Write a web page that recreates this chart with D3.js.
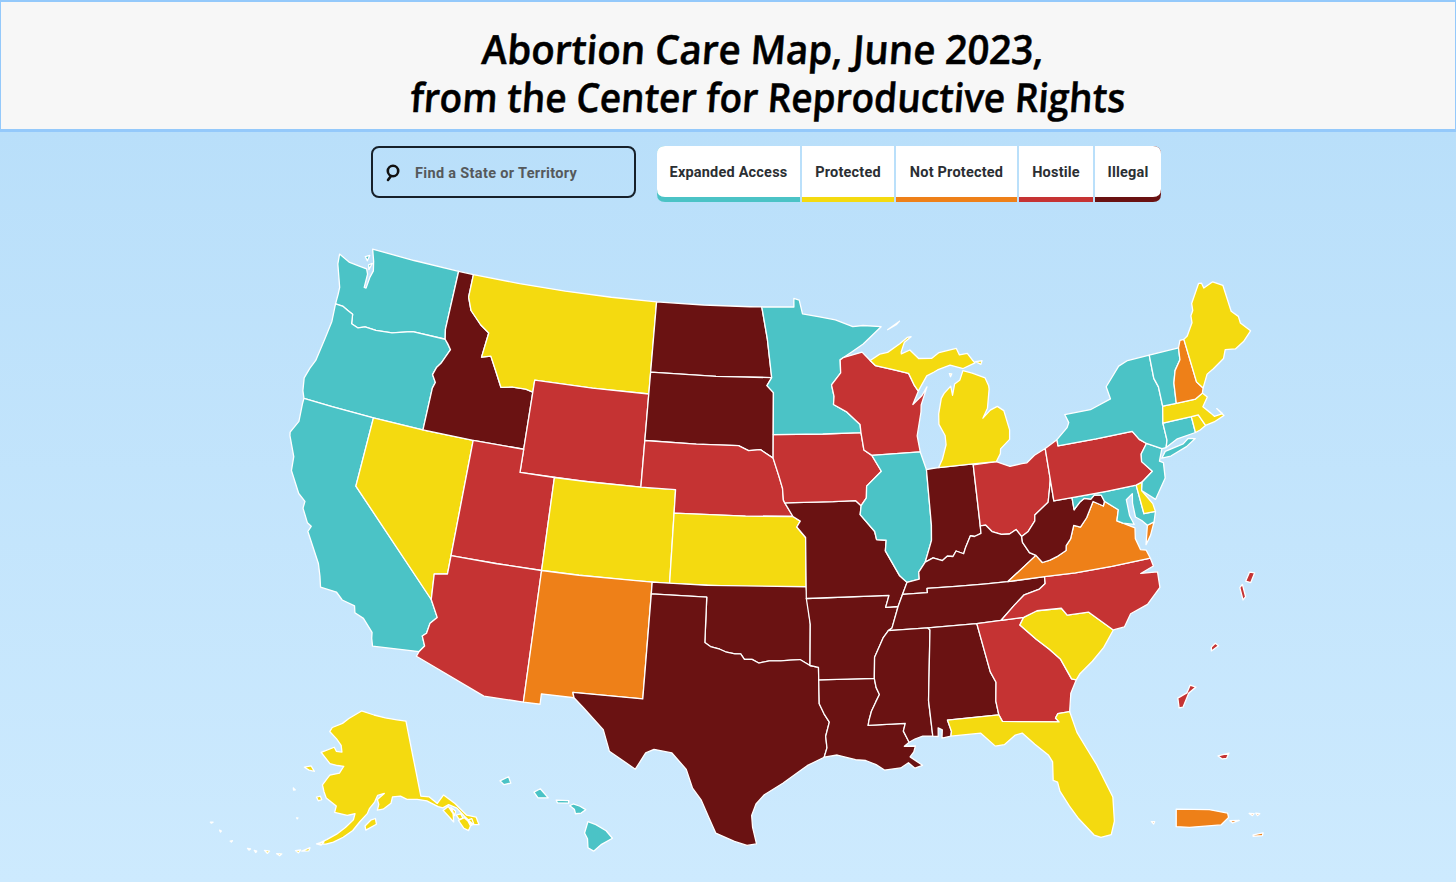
<!DOCTYPE html>
<html>
<head>
<meta charset="utf-8">
<script src="https://cdn.jsdelivr.net/npm/d3@7"></script>
<style>
  html, body { margin: 0; padding: 0; background: #fff; overflow: hidden; }
  svg { display: block; }
</style>
</head>
<body>
<div id="chart"></div>
<script>
const titleLines = ['Abortion Care Map, June 2023,', 'from the Center for Reproductive Rights']
const searchLabel = 'Find a State or Territory'
const categories = ['Expanded Access', 'Protected', 'Not Protected', 'Hostile', 'Illegal']
const categoryColors = ['#4bc3c6', '#f4da10', '#ee8018', '#c53333', '#6a1212']

// status of each state / territory
const expandedAccess = ['WA', 'OR', 'CA', 'MN', 'IL', 'NY', 'VT', 'CT', 'NJ', 'MD', 'HI']
const protectedStates = ['MT', 'NV', 'CO', 'KS', 'MI', 'ME', 'MA', 'RI', 'DE', 'SC', 'FL', 'AK']
const notProtected = ['NM', 'VA', 'NH', 'PR', 'VI']
const hostile = ['UT', 'WY', 'AZ', 'NE', 'IA', 'WI', 'OH', 'PA', 'NC', 'GA', 'GU', 'MP', 'AS']
const illegal = ['ID', 'ND', 'SD', 'TX', 'OK', 'MO', 'AR', 'LA', 'MS', 'AL', 'TN', 'KY', 'WV', 'IN']

// shared borders, [lon, lat]
const columbia = [[-124.05,46.27],[-123.55,46.26],[-123.2,46.15],[-122.85,46.05],[-122.8,45.85],[-122.75,45.65],[-122.3,45.55],[-121.9,45.68],[-121.2,45.65],[-120.2,45.73],[-119.3,45.93],[-118.98,46],[-116.92,46]]
const hellsCanyon = [[-116.92,46],[-116.7,45.83],[-116.46,45.61],[-116.85,44.95],[-117.05,44.75],[-117.2,44.4],[-116.93,44.1],[-117.03,43.83],[-117.03,42]]
const bitterroot = [[-116.05,49],[-116.05,48],[-115.72,47.45],[-114.95,46.93],[-114.35,46.65],[-114.5,45.57],[-113.95,45.69],[-113.45,45.05],[-113,44.45],[-112.3,44.55],[-111.5,44.55],[-111.05,44.48]]
const coloradoRiver = [[-114.63,35],[-114.14,34.3],[-114.45,34],[-114.53,33.55],[-114.72,33.4],[-114.5,33],[-114.72,32.72]]
const redRiver = [[-100,34.56],[-99.7,34.4],[-99.2,34.3],[-98.9,34.2],[-98.4,34.12],[-98.1,34.13],[-97.9,33.9],[-97.5,33.9],[-97.15,33.75],[-96.6,33.85],[-96,33.85],[-95.5,33.88],[-95,33.9],[-94.48,33.64]]
const sdNe = [[-96.45,42.49],[-97.2,42.85],[-97.9,42.8],[-98.5,43]]
const iowaWest = [[-96.45,42.49],[-96.1,41.7],[-95.9,41.2],[-95.85,40.7],[-95.77,40.58]]
const mnWi = [[-92.29,46.66],[-92.29,46.1],[-92.88,45.6],[-92.75,45.1],[-92.8,44.75],[-92,44.4],[-91.25,43.85],[-91.22,43.5]]
const iaWi = [[-91.22,43.5],[-91.1,42.75],[-90.65,42.5]]
const iaIl = [[-90.65,42.5],[-90.15,41.8],[-91.05,41.2],[-91.1,40.7],[-91.42,40.38]]
const moIl = [[-91.42,40.38],[-91.5,40],[-90.73,39.25],[-90.65,38.9],[-90.12,38.85],[-90.2,38.4],[-89.5,37.3],[-89.13,37]]
const moKy = [[-89.13,37],[-89.42,36.5]]
const moTn = [[-89.42,36.5],[-89.7,36]]
const arTn = [[-89.7,36],[-90.1,35.1],[-90.3,35]]
const arMs = [[-90.3,35],[-90.6,34.7],[-91.1,33.9],[-91.17,33]]
const laMs = [[-91.17,33],[-91.1,32.6],[-90.95,32.3],[-91.15,32],[-91.4,31.6],[-91.55,31.2],[-91.6,31],[-89.73,31],[-89.85,30.67],[-89.6,30.18]]
const ilKy = [[-89.13,37],[-88.45,37.1],[-88.45,37.4],[-88.05,37.8]]
const ilIn = [[-87.53,39.35],[-87.6,38.7],[-87.95,38],[-88.05,37.8]]
const inKy = [[-88.05,37.8],[-87.6,37.95],[-87.1,37.8],[-86.8,37.97],[-86.5,37.93],[-86.3,38.15],[-85.9,38],[-85.75,38.27],[-85.42,38.73],[-85.2,38.68],[-84.82,38.78],[-84.81,39.1]]
const ohKy = [[-84.81,39.1],[-84.5,39.1],[-84.2,38.8],[-83.7,38.63],[-83.25,38.6],[-82.85,38.75],[-82.6,38.42]]
const ohWv = [[-82.6,38.42],[-82.2,38.6],[-81.75,39],[-81.7,39.25],[-80.85,39.7],[-80.65,40.25],[-80.52,40.64]]
const kyWv = [[-82.6,38.42],[-82.6,38.17],[-82.3,37.7],[-81.97,37.54]]
const vaWv = [[-81.97,37.54],[-81.68,37.2],[-81.25,37.25],[-80.85,37.35],[-80.3,37.55],[-80.25,37.75],[-79.95,38],[-79.65,38.55],[-79.3,38.42],[-78.87,38.77],[-78.35,39.4],[-77.83,39.13],[-77.72,39.32]]
const mdWv = [[-79.48,39.2],[-79.1,39.47],[-78.8,39.6],[-78.45,39.52],[-78.2,39.67],[-77.83,39.6],[-77.72,39.32]]
const savannah = [[-83.1,35],[-83.35,34.7],[-82.6,34],[-82,33.5],[-81.5,33],[-81.1,32.1],[-80.87,32.03]]
const rev = border => border.slice().reverse()

// state outlines, [lon, lat]
const stateRings = {
  WA: [[[-124.73,48.38],[-124,48.17],[-123.3,48.13],[-122.8,48.1],[-122.65,47.9],[-122.62,47.3],[-122.5,47.3],[-122.45,47.8],[-122.35,48.1],[-122.5,48.5],[-122.78,49],[-120,49],[-117.03,49],[-117.04,46.42],...rev(columbia),[-124.07,46.7],[-124.1,47],[-124.3,47.35],[-124.65,47.95]],
       [[-123.1,48.6],[-122.85,48.7],[-122.9,48.45]],
       [[-122.75,48.3],[-122.55,48.4],[-122.65,48.1]]],
  OR: [[...columbia,...hellsCanyon,[-120,42],[-122.5,42],[-124.21,42],[-124.4,42.3],[-124.55,42.84],[-124.4,43.3],[-124.2,43.7],[-124.05,44.7],[-123.95,45.5]]],
  CA: [[[-124.21,42],[-122.5,42],[-120,42],[-120,39],...coloradoRiver,[-117.12,32.53],[-117.25,32.85],[-117.3,33.1],[-117.9,33.6],[-118.4,33.75],[-118.5,34.03],[-119.2,34.15],[-119.6,34.42],[-120.47,34.45],[-120.65,34.9],[-120.9,35.4],[-121.9,36.6],[-121.8,36.85],[-122.05,36.95],[-122.5,37.5],[-122.5,37.8],[-122.95,38.05],[-123.7,38.9],[-123.8,39.5],[-124.35,40.3],[-124.4,40.45],[-124.1,41],[-124.2,41.75]]],
  NV: [[[-120,42],[-117,42],[-114.04,42],[-114.04,36.2],[-114.74,36.1],[-114.63,35],[-120,39]]],
  ID: [[[-117.03,49],...bitterroot,[-111.05,42],[-114.04,42],...rev(hellsCanyon),[-117.04,46.42]]],
  MT: [[[-116.05,49],[-113,49],[-110,49],[-107,49],[-104.05,49],[-104.05,45],[-107.5,45],[-111.05,45],...rev(bitterroot)]],
  WY: [[[-111.05,45],[-107.5,45],[-104.05,45],[-104.05,43],[-104.05,41],[-107.5,41],[-111.05,41]]],
  UT: [[[-114.04,42],[-111.05,42],[-111.05,41],[-109.05,41],[-109.05,37],[-111.5,37],[-114.04,37]]],
  CO: [[[-109.05,41],[-107,41],[-104.05,41],[-102.05,41],[-102.05,37],[-104,37],[-107,37],[-109.05,37]]],
  AZ: [[[-114.04,37],[-111.5,37],[-109.05,37],[-109.05,31.33],[-111.07,31.33],[-114.81,32.5],...rev(coloradoRiver),[-114.74,36.1],[-114.04,36.2]]],
  NM: [[[-109.05,37],[-107,37],[-103,37],[-103.04,32],[-106.62,32],[-106.53,31.78],[-108.2,31.78],[-108.2,31.33],[-109.05,31.33]]],
  ND: [[[-104.05,49],[-101,49],[-98,49],[-97.23,49],[-96.85,47.6],[-96.56,45.94],[-100,45.94],[-104.05,45.94]]],
  SD: [[[-104.05,45.94],[-100,45.94],[-96.56,45.94],[-96.85,45.6],[-96.45,45.3],[-96.45,43.5],...sdNe,[-101,43],[-104.05,43]]],
  NE: [[[-104.05,43],[-101,43],...rev(sdNe),...iowaWest,[-95.31,40],[-98,40],[-102.05,40],[-102.05,41],[-104.05,41]]],
  KS: [[[-102.05,40],[-98,40],[-95.31,40],[-94.9,39.8],[-95.1,39.55],[-94.61,39.1],[-94.62,37],[-98,37],[-102.05,37]]],
  OK: [[[-103,37],[-100,37],[-94.62,37],[-94.43,35.4],...rev(redRiver),[-100,36.5],[-103,36.5]]],
  TX: [[[-103,36.5],[-100,36.5],...redRiver,[-94.04,33.55],[-94.04,33.02],[-94.04,32],[-93.8,31.55],[-93.55,31.2],[-93.75,30.6],[-93.7,30.1],[-93.85,29.7],[-94.7,29.35],[-95.1,29.1],[-95.9,28.6],[-96.8,28.1],[-97.2,27.7],[-97.4,27.2],[-97.35,26.7],[-97.15,25.97],[-97.6,25.9],[-98.2,26.06],[-99.1,26.4],[-99.45,27.05],[-99.85,27.8],[-100.3,28.3],[-100.65,29.1],[-101.4,29.77],[-102.3,29.88],[-102.7,29.7],[-103.15,28.97],[-104.5,29.65],[-104.9,30.55],[-106,31.4],[-106.53,31.78],[-106.62,32],[-103.04,32]]],
  LA: [[[-94.04,33.02],...laMs,[-89.85,30.02],[-89.3,30],[-89.4,29.75],[-89.6,29.55],[-89.02,29.15],[-89.4,29.05],[-89.7,29.3],[-90.1,29.1],[-90.9,29.05],[-91.3,29.3],[-91.8,29.5],[-92.3,29.55],[-93.2,29.78],[-93.85,29.7],[-93.7,30.1],[-93.75,30.6],[-93.55,31.2],[-93.8,31.55],[-94.04,32]]],
  AR: [[[-94.62,36.5],[-90.15,36.5],[-90.37,36],...arTn,...arMs,[-94.04,33.02],[-94.04,33.55],[-94.48,33.64],[-94.43,35.4]]],
  MO: [[[-95.77,40.58],[-93,40.6],[-91.73,40.61],...moIl,...moKy,...moTn,[-90.37,36],[-90.15,36.5],[-94.62,36.5],[-94.62,37],[-94.61,39.1],[-95.1,39.55],[-94.9,39.8],[-95.31,40]]],
  IA: [[[-96.45,43.5],[-93.5,43.5],...iaWi,...iaIl,[-91.73,40.61],[-93,40.6],...rev(iowaWest)]],
  MN: [[[-97.23,49],[-95.15,49],[-95.15,49.38],[-94.8,49.3],[-94.6,48.7],[-93.5,48.55],[-92.5,48.4],[-91.4,48.07],[-90.75,48.1],[-89.6,48],[-90.8,47.3],[-91.5,47],[-92.1,46.75],...mnWi,[-93.5,43.5],[-96.45,43.5],[-96.45,45.3],[-96.85,45.6],[-96.56,45.94],[-96.85,47.6]]],
  WI: [[[-92.1,46.75],[-90.9,46.95],[-90.42,46.57],[-90.12,46.34],[-89.1,46.13],[-88.1,45.9],[-87.8,45.35],[-87.6,45.1],[-88,44.55],[-87.4,44.9],[-87.05,45.25],[-87.5,44.5],[-87.55,44.2],[-87.9,43.2],[-87.8,42.5],...rev(iaWi),...rev(mnWi)]],
  IL: [[[-90.65,42.5],[-87.8,42.5],[-87.53,41.72],...ilIn,...rev(ilKy),...rev(moIl),...rev(iaIl)]],
  IN: [[[-87.53,41.72],[-87.2,41.75],[-86.82,41.76],[-84.8,41.76],...rev(inKy),...rev(ilIn)]],
  OH: [[[-84.8,41.72],[-83.45,41.73],[-83.1,41.6],[-82.7,41.45],[-82,41.5],[-81.7,41.5],[-81.2,41.77],[-80.52,41.98],...rev(ohWv),...rev(ohKy)]],
  KY: [[...rev(moKy),...ilKy,...inKy,...ohKy,...kyWv,[-83.68,36.6],[-85,36.62],[-86.5,36.65],[-88.07,36.68],[-88.07,36.5]]],
  TN: [[...rev(arTn),...rev(moTn),[-88.07,36.5],[-88.07,36.68],[-86.5,36.65],[-85,36.62],[-83.68,36.6],[-81.68,36.59],[-81.7,36.3],[-82.05,36.1],[-82.9,35.95],[-83.5,35.57],[-84.3,35],[-85.6,34.98],[-88.2,35]]],
  MS: [[[-90.3,35],[-88.2,35],[-88.1,34.9],[-88.47,31.9],[-88.4,30.37],[-88.9,30.4],[-89.3,30.3],...rev(laMs),...rev(arMs)]],
  AL: [[[-88.2,35],[-85.6,34.98],[-85.18,32.87],[-84.95,32.4],[-85.07,31.6],[-85,31],[-87.6,31],[-87.45,30.5],[-87.5,30.3],[-87.95,30.25],[-87.9,30.6],[-88.1,30.7],[-88.13,30.33],[-88.4,30.37],[-88.47,31.9],[-88.1,34.9]]],
  GA: [[[-85.6,34.98],[-84.3,35],...savannah,[-81.25,31.5],[-81.45,30.73],[-82.05,30.72],[-82.2,30.55],[-82.05,30.36],[-84.86,30.7],[-85,31],[-85.07,31.6],[-84.95,32.4],[-85.18,32.87]]],
  FL: [[[-87.6,31],[-85,31],[-84.86,30.7],[-82.05,30.36],[-82.2,30.55],[-82.05,30.72],[-81.45,30.73],[-81.25,29.8],[-80.9,29.05],[-80.55,28.3],[-80.03,26.8],[-80.15,25.75],[-80.4,25.2],[-80.9,25.15],[-81.2,25.3],[-81.8,26.1],[-82.15,26.7],[-82.5,27.4],[-82.55,27.8],[-82.75,27.9],[-82.65,28.7],[-82.8,29],[-83.4,29.55],[-83.95,30.1],[-84.3,30.05],[-84.9,29.7],[-85.35,29.68],[-86,30.3],[-87.5,30.3],[-87.45,30.5]]],
  SC: [[...savannah,[-80.65,32.25],[-79.9,32.7],[-79.2,33.2],[-78.55,33.86],[-79.67,34.8],[-80.8,34.82],[-81.05,35.15],[-82.35,35.2]]],
  NC: [[[-84.3,35],[-83.5,35.57],[-82.9,35.95],[-82.05,36.1],[-81.7,36.3],[-81.68,36.59],[-80,36.54],[-78,36.54],[-75.87,36.55],[-75.8,36.2],[-76.55,36],[-75.65,35.92],[-75.7,35.25],[-76.53,34.65],[-77.5,34.4],[-77.95,33.9],[-78.55,33.86],[-79.67,34.8],[-80.8,34.82],[-81.05,35.15],[-82.35,35.2],[-83.1,35]]],
  VA: [[[-83.68,36.6],...vaWv,[-77.05,38.85],[-77.25,38.4],[-76.95,38.25],[-76.35,37.95],[-76.45,37.5],[-76.3,37],[-76,36.92],[-75.87,36.55],[-78,36.54],[-80,36.54],[-81.68,36.59]],
       [[-75.95,37.15],[-75.65,37.95],[-75.25,38.03],[-75.6,37.5]]],
  WV: [[...rev(kyWv),...ohWv,[-80.52,39.72],[-79.48,39.72],...mdWv,...rev(vaWv)]],
  MD: [[[-79.48,39.72],[-77.5,39.72],[-75.79,39.72],[-75.7,38.46],[-75.05,38.45],[-75.25,38.03],[-75.65,37.95],[-75.9,38.2],[-76.2,38.4],[-76.2,39],[-76.1,39.4],[-76.5,39.2],[-76.5,38.5],[-76.35,38.1],[-76.95,38.25],[-77.25,38.4],[-77.05,38.85],...rev(mdWv)]],
  DE: [[[-75.79,39.72],[-75.42,39.8],[-75.55,39.45],[-75.1,38.8],[-75.05,38.45],[-75.7,38.46]]],
  PA: [[[-80.52,41.98],[-79.76,42.27],[-79.76,42],[-77.5,42],[-75.35,42],[-75.05,41.6],[-74.7,41.36],[-75.13,40.97],[-75.2,40.65],[-74.72,40.15],[-75.42,39.8],[-75.79,39.72],[-77.5,39.72],[-79.48,39.72],[-80.52,39.72],[-80.52,40.64]]],
  NJ: [[[-74.7,41.36],[-73.9,41],[-74.2,40.5],[-74,40.4],[-74.1,39.75],[-74.9,38.95],[-75.55,39.45],[-75.42,39.8],[-74.72,40.15],[-75.2,40.65],[-75.13,40.97]]],
  NY: [[[-79.76,42.27],[-79.05,42.7],[-78.9,42.9],[-79.05,43.27],[-77.5,43.27],[-76.2,43.55],[-76.3,44.1],[-75.3,44.85],[-74.7,45],[-73.34,45.01],[-73.4,44],[-73.25,43.6],[-73.28,42.75],[-73.5,42.05],[-73.5,41.3],[-73.65,41],[-73.9,41],[-74.7,41.36],[-75.05,41.6],[-75.35,42],[-77.5,42],[-79.76,42]],
       [[-74.03,40.6],[-73.75,40.85],[-72.65,40.98],[-72.3,41.15],[-71.9,41.07],[-72.5,40.83],[-73.5,40.6]]],
  CT: [[[-73.5,42.05],[-71.8,42.02],[-71.8,41.32],[-72.9,41.25],[-73.65,41],[-73.5,41.3]]],
  RI: [[[-71.8,42.02],[-71.38,42.02],[-71.13,41.5],[-71.5,41.37],[-71.8,41.32]]],
  MA: [[[-73.5,42.05],[-73.28,42.75],[-72.46,42.73],[-71.3,42.7],[-70.82,42.87],[-70.6,42.65],[-71,42.3],[-70.65,41.95],[-70.5,41.78],[-70,41.8],[-70.25,42.07],[-69.95,41.7],[-70.6,41.55],[-71.13,41.5],[-71.38,42.02],[-71.8,42.02]]],
  VT: [[[-73.34,45.01],[-71.5,45.01],[-71.6,44.5],[-72.05,44.1],[-72.3,43.6],[-72.46,42.73],[-73.28,42.75],[-73.25,43.6],[-73.4,44]]],
  NH: [[[-71.5,45.01],[-71.3,45.3],[-71.05,45.3],[-70.98,43.4],[-70.7,43.07],[-70.82,42.87],[-71.3,42.7],[-72.46,42.73],[-72.3,43.6],[-72.05,44.1],[-71.6,44.5]]],
  ME: [[[-71.05,45.3],[-70.8,45.4],[-70.3,45.9],[-70.25,46.2],[-70.05,46.4],[-70,46.7],[-69.23,47.46],[-69.05,47.43],[-69,47.2],[-68.35,47.35],[-67.8,47.07],[-67.78,45.9],[-67.45,45.6],[-67.45,45.3],[-67,44.85],[-67.6,44.5],[-68.2,44.3],[-68.8,44.4],[-69.05,44.05],[-69.8,43.75],[-70.25,43.6],[-70.7,43.07],[-70.98,43.4]]],
  MI: [[[-86.82,41.76],[-84.8,41.76],[-83.45,41.73],[-83.15,42.05],[-83.1,42.25],[-82.5,42.6],[-82.42,43],[-82.6,43.85],[-82.95,44.07],[-83.4,43.95],[-83.9,43.65],[-83.55,44.05],[-83.3,44.85],[-83.3,45],[-83.45,45.35],[-84.2,45.63],[-84.75,45.78],[-85,45.4],[-85.35,45.25],[-85.55,44.78],[-85.6,45.18],[-86.05,44.9],[-86.25,44.7],[-86.5,44.05],[-86.55,43.6],[-86.25,43.1],[-86.25,42.7],[-86.55,42.1]],
       [[-90.42,46.57],[-89.8,46.82],[-89.3,46.87],[-88.5,47.2],[-88,47.45],[-87.75,47.47],[-88.2,47.25],[-88.45,46.85],[-88.45,46.76],[-87.9,46.9],[-87.4,46.5],[-86.6,46.45],[-86.1,46.67],[-85,46.77],[-84.85,46.47],[-84.35,46.5],[-84.1,46.2],[-83.95,46.05],[-84.72,45.87],[-85.5,46.08],[-86.3,45.93],[-86.55,45.85],[-87,45.72],[-87.6,45.1],[-87.8,45.35],[-88.1,45.9],[-89.1,46.13],[-90.12,46.34]],
       [[-83.9,46.1],[-83.5,46.1],[-83.6,45.95]],
       [[-85.6,45.72],[-85.45,45.7],[-85.55,45.58]],
       [[-89.2,47.85],[-88.4,48.18],[-88.6,48.05]]],
  AK: [[[-141,69.65],[-141,65],[-141,60.3],[-139,60],[-137.5,59],[-135.5,59.8],[-133.5,58.4],[-131.8,56.6],[-130,56],[-130,55],[-131.2,55.3],[-132.4,56.6],[-133.4,57.8],[-135,58.5],[-136.5,58.3],[-137.5,58.6],[-139.8,59.6],[-142,60],[-144.5,60.2],[-146,60.7],[-148,60.7],[-148.5,59.95],[-150.5,59.3],[-151.9,59.2],[-151.5,59.9],[-151.8,60.5],[-150,61.2],[-151.7,61],[-152.5,60.2],[-153.8,59.4],[-154.3,58.8],[-156,57.8],[-157.5,56.7],[-159.5,55.8],[-161.5,55.1],[-163,54.75],[-164.8,54.6],[-163,55.3],[-161,56.1],[-159.2,57],[-157.5,58],[-157.2,58.75],[-159,58.5],[-162,58.7],[-161.8,59.5],[-164.5,60.3],[-165.3,61],[-166,61.8],[-165,62.7],[-164.5,63.1],[-162,63.5],[-161,64.4],[-162.8,64.4],[-165,64.5],[-168.1,65.65],[-164.5,66.55],[-163.7,66.1],[-162,66.1],[-162.5,66.9],[-164.2,67.6],[-166.8,68.35],[-166.2,68.9],[-163,69.6],[-161,70.3],[-156.6,71.35],[-152,70.85],[-148,70.4],[-144,70]],
       [[-154.6,56.8],[-152.2,57.5],[-152.4,58.2],[-153.5,58],[-154.8,57.3]],
       [[-171.7,63.4],[-170,63.75],[-168.8,63.2],[-170.3,63.2]],
       [[-166.9,60.2],[-166,60.4],[-165.5,60],[-166.3,59.8]],
       [[-136.6,58],[-135.2,58.3],[-134.6,57.3],[-135,56.3],[-135.8,57.2]],
       [[-134.7,58.1],[-133.9,57.5],[-134.4,57]],
       [[-134,57],[-133,57],[-132.8,56.4],[-133.7,56.4]],
       [[-133.9,56.3],[-132.5,56.4],[-131.5,55.4],[-132.5,54.75],[-133.3,55.2]],
       [[-132,56],[-131,56],[-131,55.3],[-131.8,55.2]],
       [[-173,60.6],[-172.4,60.45],[-172.8,60.35]],
       [[-170.4,57.2],[-170.1,57.25],[-170.2,57.1]],
       [[-165,54.6],[-163.5,55],[-164,54.55]],
       [[-167.7,53.4],[-166.2,54],[-166.3,53.6]],
       [[-169,53.3],[-168,53.5],[-168.3,53.1]],
       [[-172.5,52.35],[-171.5,52.5],[-171.8,52.2]],
       [[-175,52.3],[-174,52.4],[-174.3,52.05]],
       [[-176.9,51.9],[-176.4,51.9],[-176.5,51.7]],
       [[-178.3,51.85],[-177.7,51.9],[-177.9,51.7]],
       [[-182,51.85],[-181.6,52],[-181.7,51.8]],
       [[-184.8,52.5],[-184.4,52.5],[-184.5,52.35]],
       [[-187.2,52.85],[-186.7,53],[-186.9,52.8]]],
  HI: [[[-159.78,22.05],[-159.4,22.23],[-159.3,21.95],[-159.6,21.88]],
       [[-158.28,21.55],[-158,21.7],[-157.65,21.3],[-158.1,21.3]],
       [[-157.3,21.2],[-156.75,21.18],[-156.75,21.07],[-157.25,21.08]],
       [[-156.7,20.95],[-156.55,21.03],[-156.25,20.93],[-156,20.78],[-156.2,20.63],[-156.45,20.6],[-156.5,20.8]],
       [[-155.9,20.25],[-155.55,20.12],[-155.1,19.85],[-154.82,19.52],[-155.3,19.25],[-155.65,18.95],[-155.9,19.1],[-155.92,19.5],[-156.05,19.75]]],
  PR: [[[-67.2,18.5],[-66.2,18.48],[-65.65,18.38],[-65.62,18.25],[-65.85,18.02],[-66.8,17.95],[-67.2,17.97]],
       [[-65.58,18.15],[-65.3,18.16],[-65.5,18.08]],
       [[-67.95,18.12],[-67.85,18.12],[-67.88,18.05]]],
  VI: [[[-64.88,17.72],[-64.58,17.78],[-64.6,17.7],[-64.88,17.68]],
       [[-65,18.37],[-64.85,18.36],[-64.9,18.3]],
       [[-64.8,18.38],[-64.68,18.36],[-64.75,18.3]]],
  GU: [[[144.8,13.61],[144.89,13.58],[144.78,13.49],[144.69,13.27],[144.63,13.26],[144.61,13.41],[144.75,13.49]]],
  MP: [[[145.13,14.14],[145.24,14.22],[145.19,14.26],[145.13,14.2]],
       [[145.57,15.12],[145.61,15.17],[145.66,14.98],[145.62,14.93]],
       [[145.66,15.22],[145.72,15.36],[145.8,15.35],[145.74,15.2]]],
  AS: [[[-170.88,-14.33],[-170.55,-14.24],[-170.62,-14.4],[-170.75,-14.42]]]
}

const WIDTH = 1456
const HEIGHT = 882

const statusByState = new Map()
const statusLists = [expandedAccess, protectedStates, notProtected, hostile, illegal]
statusLists.forEach((list, i) => list.forEach(id => statusByState.set(id, categories[i])))
const color = d3.scaleOrdinal().domain(categories).range(categoryColors)

// one projection for the lower 48, separate ones for the insets
const mainland = d3.geoAlbers().rotate([96, 0]).center([-0.6, 38.7]).parallels([29.5, 45.5]).scale(1332).translate([770, 547])
const alaska = d3.geoConicEqualArea().rotate([154, 0]).center([-2, 58.5]).parallels([55, 65]).scale(470).translate([360, 816])
const hawaii = d3.geoEquirectangular().rotate([157, 0]).center([0, 20.5]).scale(1300).translate([563, 816])
const caribbean = d3.geoEquirectangular().rotate([66, 0]).center([0, 18.2]).scale(1900).translate([1216, 819])
const marianas = d3.geoEquirectangular().rotate([-145, 0]).center([0, 14]).scale(3700).translate([1203, 660])
const samoa = d3.geoEquirectangular().rotate([170.7, 0]).center([0, -14.3]).scale(1900).translate([1224, 755])

const projectionFor = {
  AK: alaska, HI: hawaii, PR: caribbean, VI: caribbean, GU: marianas, MP: marianas, AS: samoa
}
const closedLine = d3.line().curve(d3.curveLinearClosed)
const statePath = id => {
  const projection = projectionFor[id] || mainland
  return stateRings[id].map(ring => closedLine(ring.map(projection))).join('')
}

const svg = d3.select('#chart').append('svg').attr('width', WIDTH).attr('height', HEIGHT)

const defs = svg.append('defs')
const sky = defs.append('linearGradient').attr('id', 'sky').attr('x1', 0).attr('x2', 0).attr('y1', 0).attr('y2', 1)
sky.append('stop').attr('offset', 0).attr('stop-color', '#b9dffa')
sky.append('stop').attr('offset', 1).attr('stop-color', '#cdeafe')

// background and title band
svg.append('rect').attr('y', 130).attr('width', WIDTH).attr('height', HEIGHT - 130).attr('fill', 'url(#sky)')
svg.append('rect').attr('width', WIDTH).attr('height', 132).attr('fill', '#94c9fb')
svg.append('rect').attr('x', 1).attr('y', 2).attr('width', WIDTH - 2).attr('height', 127).attr('fill', '#f7f7f7')

svg.selectAll('text.title').data(titleLines).join('text')
  .attr('class', 'title')
  .attr('text-anchor', 'middle')
  .attr('transform', (d, i) => `translate(${[762, 767][i]},${[64, 112][i]}) skewX(-4)`)
  .attr('textLength', (d, i) => [562, 715][i])
  .attr('lengthAdjust', 'spacingAndGlyphs')
  .style('font-family', '"Open Sans"')
  .style('font-weight', 600)
  .style('font-size', '40px')
  .style('stroke', '#000')
  .style('stroke-width', 0.5)
  .style('fill', '#000')
  .text(d => d)

// search box
svg.append('rect').attr('x', 372).attr('y', 147).attr('width', 263).attr('height', 50).attr('rx', 7)
  .attr('fill', 'none').attr('stroke', '#16202a').attr('stroke-width', 2)
svg.append('circle').attr('cx', 393).attr('cy', 171).attr('r', 5.2)
  .attr('fill', 'none').attr('stroke', '#111').attr('stroke-width', 2.6)
svg.append('line').attr('x1', 391).attr('y1', 176).attr('x2', 388).attr('y2', 180)
  .attr('stroke', '#111').attr('stroke-width', 2.6).attr('stroke-linecap', 'round')
svg.append('text').attr('x', 415).attr('y', 178)
  .style('font-family', 'Roboto').style('font-weight', 700).style('font-size', '14.5px').style('letter-spacing', '0.33px').style('fill', '#55595c')
  .text(searchLabel)

// legend cells
const legendEdges = [657, 802, 896, 1019, 1095, 1163]
const legendTop = 146
const legendBar = 197
const legendBottom = 202
const legend = svg.append('g').attr('class', 'legend')
const cellPath = (x0, x1, y0, y1, left, right) => {
  const r = 8
  return `M${x0 + (left ? r : 0)},${y0}H${x1 - (right ? r : 0)}` + (right ? `Q${x1},${y0} ${x1},${y0 + r}` : '') +
    `V${y1 - (right ? r : 0)}` + (right ? `Q${x1},${y1} ${x1 - r},${y1}` : '') +
    `H${x0 + (left ? r : 0)}` + (left ? `Q${x0},${y1} ${x0},${y1 - r}` : '') +
    `V${y0 + (left ? r : 0)}` + (left ? `Q${x0},${y0} ${x0 + r},${y0}` : '') + 'Z'
}
const cells = legend.selectAll('g').data(categories).join('g')
cells.append('path')
  .attr('d', (d, i) => cellPath(legendEdges[i], legendEdges[i + 1] - 2, legendTop, legendBottom, i === 0, i === categories.length - 1))
  .attr('fill', d => color(d))
cells.append('path')
  .attr('d', (d, i) => cellPath(legendEdges[i], legendEdges[i + 1] - 2, legendTop, legendBar, i === 0, i === categories.length - 1))
  .attr('fill', '#fff')
cells.append('text')
  .attr('x', (d, i) => (legendEdges[i] + legendEdges[i + 1] - 2) / 2)
  .attr('y', 177)
  .attr('text-anchor', 'middle')
  .style('font-family', 'Roboto').style('font-weight', 700).style('font-size', '14.5px').style('letter-spacing', '0.2px').style('fill', '#2b2f33')
  .text(d => d)

// states
const allStates = Object.keys(stateRings)
svg.append('g').attr('class', 'states').selectAll('path').data(allStates).join('path')
  .attr('d', statePath)
  .attr('fill', d => color(statusByState.get(d)))
  .attr('stroke', '#fff')
  .attr('stroke-width', 1.3)
  .attr('stroke-linejoin', 'round')
</script>
</body>
</html>
